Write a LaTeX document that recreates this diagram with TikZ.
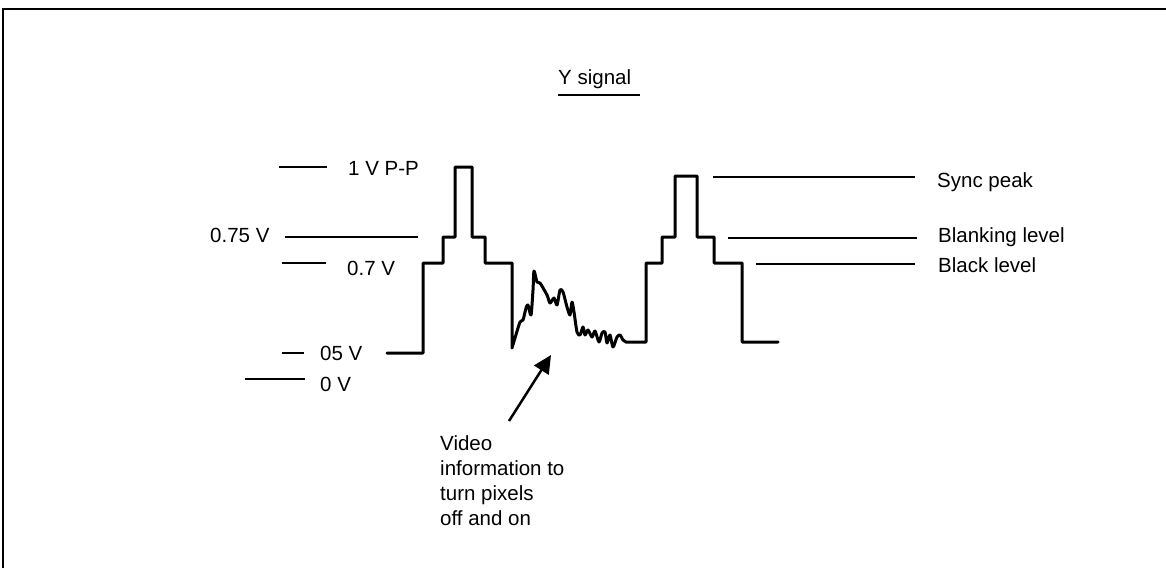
\documentclass[tikz,border=0pt]{standalone}
\usepackage{fontspec}
\setmainfont{Liberation Sans}
\usetikzlibrary{arrows.meta}
\begin{document}
\begin{tikzpicture}[x=1pt,y=-1pt,
  lbl/.style={anchor=base west,inner sep=0pt,font=\fontsize{20.5}{25}\selectfont},
  lvl/.style={line width=2.6pt},
  wave/.style={line width=3pt,line join=round,line cap=round},
  frame/.style={line width=2.5pt},
  pointer/.style={line width=2.5pt,-{Triangle[length=18pt,width=17pt]}}]
\useasboundingbox (0,0) rectangle (1166,568);
% frame
\draw[frame] (3,568) -- (3,9) -- (1166,9);
% title
\node[lbl] (title) at (558,84) {Y signal};
\draw[lvl] (558,95) -- (640,95);
% left labels and level marks
\node[lbl] (pp) at (348,175) {1 V P-P};
\node[lbl] (v75) at (210,242) {0.75 V};
\node[lbl] (v7) at (347,275) {0.7 V};
\node[lbl] (v05) at (320,360) {05 V};
\node[lbl] (v0) at (320,391) {0 V};
\draw[lvl] (279,167) -- (327,167);
\draw[lvl] (285,237) -- (418,237);
\draw[lvl] (282,263) -- (326,263);
\draw[lvl] (282,353) -- (304,353);
\draw[lvl] (245,379) -- (305,379);
% waveform
\draw[wave] (387,353) -- (423,353) -- (423,263) -- (443,263) -- (443,237) -- (455,237)
  -- (455,167) -- (472,167) -- (472,237) -- (485,237) -- (485,263) -- (512,263) -- (512,348)
  -- plot[smooth,tension=0.45] coordinates {(512,348) (515,338) (520,322) (523,320) (526,308) (528,305)
     (531,315) (533,290) (534,271) (537,282) (540,283) (547,295) (550,303) (554,298) (557,305)
     (560,290) (563,292) (567,307) (570,315) (572,302) (574,312) (577,332) (580,335) (583,327)
     (585,335) (588,330) (592,337) (595,331) (599,342) (602,333) (605,332) (607,343) (610,335)
     (613,347) (617,337) (620,335) (623,340) (626,342)}
  -- (646,342) -- (646,263) -- (662,263) -- (662,237) -- (675,237) -- (675,176) -- (697,176)
  -- (697,237) -- (714,237) -- (714,263) -- (742,263) -- (742,342) -- (778,342);
% right level marks and labels
\draw[lvl] (713,177) -- (915,177);
\draw[lvl] (728,238) -- (917,238);
\draw[lvl] (756,264) -- (915,264);
\node[lbl] (sync) at (937,187) {Sync peak};
\node[lbl] (blank) at (938,242) {Blanking level};
\node[lbl] (black) at (938,272) {Black level};
% video annotation
\node[lbl,align=left,anchor=north west] (video) at (440,435) {Video\\information to\\turn pixels\\off and on};
\coordinate (atail) at (509,421);
\coordinate (atip) at (551,355);
\draw[pointer] (atail) -- (atip);
\end{tikzpicture}
\end{document}
